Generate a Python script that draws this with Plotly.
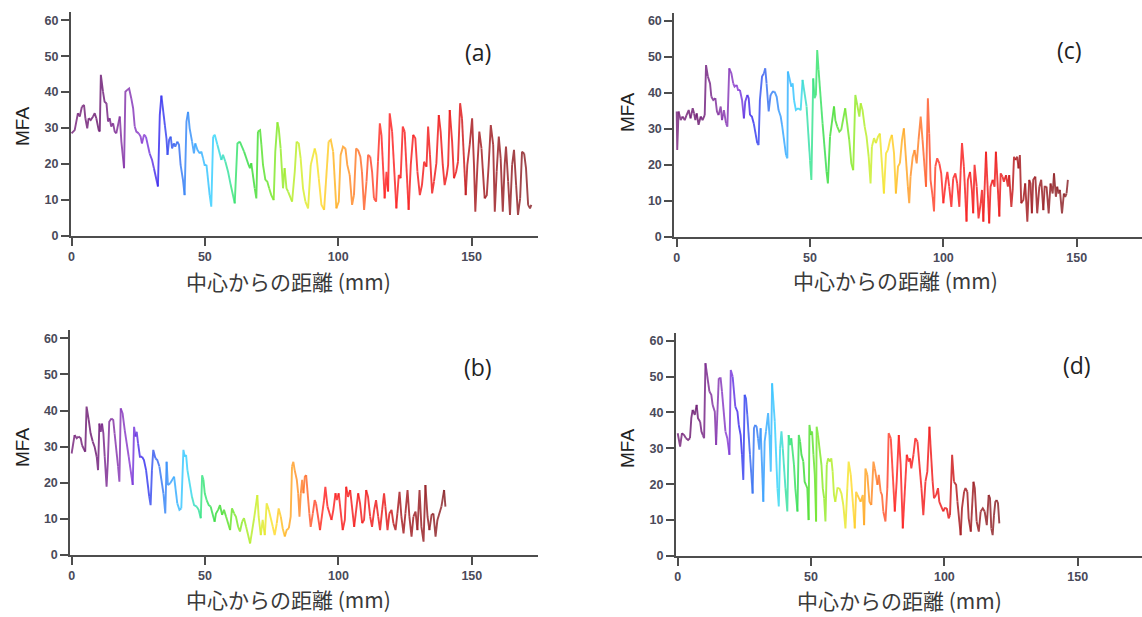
import plotly.graph_objects as go
from plotly.colors import sample_colorscale

# ---------------- data (distance from centre in mm, MFA) ----------------
a_x = [0.0, 1.2, 2.4, 3.1, 3.9, 4.7, 5.2, 5.9, 6.4, 7.2,
       8.1, 8.7, 9.3, 10.2, 10.6, 11.0, 11.8, 12.4, 13.1, 13.7,
       14.3, 14.9, 15.6, 16.2, 16.8, 17.4, 18.1, 18.7, 19.7, 20.2,
       20.9, 21.6, 22.4, 23.1, 23.7, 24.3, 25.2, 25.9, 26.4, 27.2,
       27.9, 28.7, 29.3, 30.2, 30.9, 31.8, 32.4, 33.1, 33.7, 34.3,
       35.0, 35.6, 36.0, 36.6, 37.2, 37.7, 38.4, 38.9, 39.7, 40.3,
       40.9, 41.8, 42.4, 43.1, 43.7, 44.3, 45.2, 45.9, 46.4, 47.2,
       48.1, 48.7, 49.3, 49.9, 50.6, 51.2, 51.8, 52.4, 53.1, 53.7,
       54.7, 55.6, 56.2, 56.8, 57.7, 58.7, 59.7, 60.6, 61.2, 62.2,
       63.1, 63.7, 64.7, 65.6, 66.4, 66.9, 67.4, 68.1, 68.7, 69.3,
       69.9, 70.7, 71.2, 71.8, 72.7, 73.4, 74.1, 74.9, 75.8, 76.4,
       77.2, 77.7, 78.4, 79.3, 79.9, 80.6, 81.2, 81.8, 82.7, 83.7,
       84.4, 85.2, 85.9, 86.8, 87.7, 88.7, 89.7, 90.6, 91.2, 91.8,
       92.7, 93.7, 94.7, 95.6, 96.4, 97.2, 98.1, 98.7, 99.3, 100.2,
       100.9, 101.8, 102.7, 103.4, 104.3, 105.2, 105.9, 106.7, 107.4, 108.3,
       108.9, 109.7, 110.6, 111.2, 112.0, 112.7, 113.4, 114.2, 114.9, 115.6,
       116.2, 116.8, 117.4, 118.1, 118.7, 119.3, 120.2, 120.9, 121.8, 122.7,
       123.4, 124.2, 124.9, 125.7, 126.4, 127.2, 128.1, 128.9, 129.7, 130.6,
       131.4, 132.2, 133.1, 133.7, 134.4, 135.2, 135.9, 136.8, 137.7, 138.4,
       139.2, 139.9, 140.7, 141.2, 141.8, 142.7, 143.4, 144.2, 144.9, 145.7,
       146.4, 147.2, 147.8, 148.4, 149.3, 150.2, 150.9, 151.4, 152.2, 152.9,
       153.7, 154.3, 154.9, 155.7, 156.4, 157.2, 158.1, 158.7, 159.4, 160.2,
       160.9, 161.7, 162.4, 162.9, 163.7, 164.4, 165.2, 165.9, 166.7, 167.4,
       168.2, 168.9, 169.7, 170.4, 171.2, 171.9, 172.4]
a_y = [28.5, 29.4, 34.1, 33.2, 35.9, 36.4, 32.7, 29.9, 32.7, 32.2,
       33.2, 34.1, 32.7, 29.4, 29.0, 44.8, 40.1, 37.3, 36.9, 31.8,
       32.7, 30.4, 31.3, 29.0, 28.5, 30.4, 33.2, 26.2, 18.8, 40.1,
       40.6, 41.0, 38.3, 35.5, 30.4, 29.0, 28.5, 27.6, 25.7, 28.1,
       27.6, 24.8, 22.9, 21.1, 18.8, 15.5, 13.7, 33.6, 39.0, 35.5,
       30.8, 27.1, 22.5, 26.7, 27.6, 24.3, 25.7, 24.8, 26.2, 25.3,
       19.7, 15.5, 11.3, 31.8, 34.5, 29.9, 26.2, 22.9, 25.7, 23.9,
       22.9, 23.4, 21.6, 19.7, 19.7, 15.5, 11.3, 8.1, 27.6, 28.1,
       25.3, 22.9, 21.1, 22.5, 20.6, 17.8, 14.1, 11.3, 9.0, 25.7,
       26.2, 25.3, 23.4, 21.1, 19.7, 18.8, 20.2, 16.0, 13.2, 10.4,
       29.0, 29.4, 25.3, 19.7, 15.5, 15.1, 13.2, 11.3, 9.9, 23.4,
       31.6, 29.9, 24.3, 13.2, 18.8, 13.2, 12.3, 11.3, 9.5, 17.8,
       26.2, 25.7, 21.6, 13.2, 9.5, 7.6, 19.7, 22.5, 24.3, 22.5,
       16.0, 8.6, 7.2, 16.9, 26.2, 26.7, 23.4, 16.9, 7.6, 9.5,
       22.5, 24.8, 24.3, 19.7, 16.9, 8.6, 11.3, 24.3, 23.9, 22.0,
       17.8, 7.2, 15.1, 22.5, 22.0, 17.8, 10.4, 9.5, 20.6, 31.3,
       28.1, 19.7, 10.4, 17.8, 12.3, 34.1, 29.0, 17.8, 7.6, 16.9,
       16.0, 30.4, 29.0, 17.8, 7.2, 19.7, 28.1, 27.1, 17.8, 11.3,
       14.1, 20.6, 19.2, 30.4, 22.5, 11.8, 15.1, 20.2, 33.6, 29.0,
       19.7, 14.1, 16.9, 19.7, 35.0, 26.2, 16.0, 17.8, 20.6, 36.9,
       32.7, 19.7, 11.3, 19.7, 25.3, 32.7, 19.7, 6.7, 19.7, 29.0,
       24.3, 17.8, 10.4, 11.3, 19.7, 30.8, 25.3, 6.7, 17.8, 27.6,
       21.6, 6.7, 19.7, 24.8, 15.1, 5.8, 19.7, 23.9, 14.1, 5.8,
       10.4, 23.4, 22.9, 18.8, 8.6, 7.6, 8.6]

b_x = [0.0, 0.5, 1.1, 1.9, 2.6, 3.4, 3.9, 4.6, 5.1, 5.6,
       6.4, 7.1, 7.9, 8.6, 9.4, 9.9, 10.4, 10.9, 11.4, 11.9,
       12.4, 13.1, 13.6, 14.1, 14.9, 15.6, 16.1, 16.9, 17.4, 17.9,
       18.4, 19.1, 19.9, 20.6, 21.4, 22.1, 22.9, 23.4, 23.9, 24.4,
       24.9, 25.6, 26.4, 27.1, 27.9, 28.6, 29.1, 29.6, 30.1, 30.6,
       31.4, 32.1, 32.9, 33.6, 34.4, 35.1, 35.6, 36.1, 36.9, 37.6,
       38.4, 38.9, 39.6, 40.4, 41.1, 41.9, 42.4, 42.9, 43.4, 44.4,
       45.1, 45.9, 46.9, 47.6, 48.4, 48.9, 49.4, 49.9, 50.6, 51.4,
       52.1, 52.9, 53.6, 54.1, 54.9, 55.6, 56.4, 57.1, 57.9, 58.6,
       59.4, 60.1, 60.9, 61.6, 62.4, 63.1, 63.9, 64.6, 65.4, 66.1,
       66.9, 67.6, 68.4, 69.1, 69.6, 70.1, 70.9, 71.6, 72.4, 73.1,
       73.9, 74.6, 75.4, 76.1, 76.9, 77.6, 78.4, 79.1, 79.9, 80.6,
       81.4, 82.1, 82.6, 83.1, 83.6, 84.4, 84.9, 85.4, 85.9, 86.4,
       86.9, 87.4, 87.9, 88.4, 89.1, 89.6, 90.4, 91.1, 91.6, 92.4,
       93.1, 93.9, 94.6, 95.1, 95.9, 96.6, 97.4, 98.1, 98.9, 99.4,
       100.1, 100.9, 101.6, 102.4, 102.9, 103.6, 104.4, 105.1, 105.9, 106.6,
       107.4, 108.1, 108.9, 109.6, 110.4, 111.1, 111.9, 112.6, 113.4, 114.1,
       114.9, 115.6, 116.4, 117.1, 117.6, 118.4, 119.1, 119.9, 120.6, 121.4,
       122.1, 122.9, 123.6, 124.4, 125.1, 125.9, 126.6, 127.4, 128.1, 128.9,
       129.6, 130.4, 131.1, 131.9, 132.6, 133.4, 134.1, 134.9, 135.6, 136.4,
       137.1, 137.9, 138.6, 139.1, 139.6, 140.1]
b_y = [28.1, 30.0, 33.2, 32.3, 32.8, 32.3, 30.4, 29.5, 28.6, 41.1,
       37.4, 33.7, 31.4, 30.0, 27.2, 23.5, 36.4, 34.1, 36.4, 33.7,
       27.2, 18.9, 26.3, 36.9, 37.8, 37.4, 33.7, 28.1, 24.5, 20.3,
       40.6, 39.2, 34.6, 31.4, 27.2, 23.5, 19.4, 35.5, 32.8, 34.1,
       30.9, 27.2, 27.2, 26.3, 23.5, 19.8, 16.1, 13.8, 23.5, 29.1,
       26.8, 26.3, 24.5, 21.2, 17.1, 11.5, 25.8, 19.4, 19.8, 20.8,
       21.7, 18.0, 14.3, 12.5, 12.9, 29.1, 27.2, 27.7, 23.5, 18.9,
       16.1, 13.8, 13.4, 12.5, 10.2, 22.1, 20.8, 17.1, 15.2, 13.8,
       13.4, 11.5, 9.2, 11.5, 12.5, 13.8, 11.1, 12.5, 10.6, 8.8,
       6.9, 12.9, 11.5, 10.6, 7.8, 6.5, 9.2, 10.2, 7.8, 5.5,
       3.2, 6.9, 10.2, 14.3, 16.6, 10.6, 5.5, 9.7, 5.5, 14.3,
       12.5, 10.6, 7.8, 5.5, 8.8, 12.9, 10.6, 7.4, 5.1, 6.9,
       7.4, 10.6, 24.5, 25.8, 23.5, 20.8, 17.1, 10.6, 17.1, 20.8,
       17.1, 21.7, 22.1, 17.1, 11.5, 7.8, 11.5, 15.2, 14.3, 10.6,
       6.9, 11.5, 15.2, 18.9, 13.4, 11.5, 9.7, 12.5, 17.1, 15.2,
       17.1, 10.6, 6.9, 9.7, 18.9, 16.1, 18.0, 13.4, 7.8, 11.5,
       17.1, 14.3, 8.8, 9.7, 18.0, 16.1, 10.6, 7.8, 12.5, 15.2,
       10.6, 6.9, 12.5, 17.1, 13.4, 6.9, 11.5, 12.5, 8.8, 6.9,
       11.5, 17.5, 10.6, 6.0, 11.5, 18.0, 10.6, 5.1, 10.6, 12.0,
       6.9, 18.0, 7.8, 3.7, 19.4, 10.6, 6.9, 11.1, 11.5, 5.1,
       9.7, 11.5, 13.4, 15.2, 18.0, 13.4]

c_x = [0.0, 0.2, 0.7, 1.5, 2.2, 3.0, 3.7, 4.5, 5.2, 6.0,
       6.5, 7.0, 7.5, 8.2, 9.0, 9.7, 10.5, 11.0, 11.7, 12.5,
       13.0, 13.7, 14.5, 15.1, 15.7, 16.5, 17.0, 17.7, 18.5, 19.0,
       19.7, 20.5, 21.2, 21.7, 22.5, 23.0, 23.7, 24.5, 25.2, 25.7,
       26.5, 27.0, 27.5, 28.2, 28.9, 29.5, 30.2, 30.7, 31.2, 32.0,
       32.7, 33.2, 33.7, 34.5, 35.2, 36.0, 36.7, 37.5, 38.2, 39.0,
       39.5, 40.2, 41.0, 41.5, 41.7, 42.5, 43.0, 43.5, 44.0, 44.7,
       45.5, 46.5, 47.2, 48.0, 48.7, 49.5, 50.0, 50.5, 51.2, 51.7,
       52.2, 52.7, 53.2, 54.0, 54.7, 55.5, 56.2, 56.7, 57.5, 58.2,
       59.0, 59.5, 60.2, 61.0, 61.7, 62.5, 63.2, 64.0, 64.7, 65.5,
       66.2, 67.0, 67.7, 68.5, 69.0, 69.7, 70.5, 71.2, 72.0, 72.7,
       73.2, 74.0, 74.7, 75.5, 76.2, 77.0, 77.7, 78.5, 79.2, 80.0,
       80.7, 81.5, 82.2, 83.0, 83.7, 84.5, 85.2, 86.0, 86.7, 87.2,
       87.7, 88.5, 89.2, 90.0, 90.7, 91.5, 92.2, 93.0, 93.5, 94.2,
       94.7, 95.2, 96.0, 96.5, 97.0, 97.7, 98.5, 99.2, 100.0, 100.5,
       101.0, 101.5, 102.2, 103.0, 103.7, 104.5, 105.2, 106.0, 106.5, 107.0,
       107.7, 108.2, 108.7, 109.2, 110.0, 110.7, 111.2, 111.7, 112.5, 113.2,
       114.0, 114.5, 115.0, 115.5, 116.0, 116.5, 117.2, 117.7, 118.5, 119.2,
       119.7, 120.2, 121.0, 121.5, 122.2, 122.7, 123.5, 124.2, 124.7, 125.5,
       126.0, 126.5, 127.0, 127.7, 128.2, 128.7, 129.2, 130.0, 130.7, 131.5,
       132.2, 132.7, 133.2, 133.7, 134.5, 135.2, 136.0, 136.7, 137.5, 138.0,
       138.7, 139.5, 140.2, 141.0, 141.5, 142.2, 142.7, 143.2, 143.7, 144.5,
       145.2, 145.7, 146.2, 146.7]
c_y = [34.8, 24.1, 34.8, 32.4, 33.4, 32.4, 33.8, 35.2, 32.9, 35.7,
       34.3, 32.4, 34.3, 31.1, 33.4, 32.4, 33.8, 47.7, 44.5, 42.6,
       38.9, 38.0, 38.5, 34.8, 33.8, 36.2, 32.4, 35.2, 31.5, 30.6,
       46.8, 45.4, 42.6, 41.7, 42.2, 40.8, 40.8, 38.0, 32.9, 37.5,
       39.4, 38.5, 33.8, 33.4, 31.5, 28.7, 26.0, 25.5, 38.0, 44.5,
       45.4, 46.8, 42.6, 34.8, 39.4, 40.3, 40.3, 38.9, 35.2, 33.4,
       31.1, 26.9, 22.7, 21.8, 45.9, 42.6, 41.7, 42.6, 38.0, 35.2,
       35.7, 35.2, 43.6, 39.9, 36.2, 26.9, 21.3, 15.8, 44.0, 38.5,
       39.4, 51.9, 46.4, 38.0, 31.5, 23.2, 18.0, 14.8, 27.8, 32.4,
       36.2, 32.4, 30.6, 29.2, 29.7, 32.4, 35.7, 31.5, 26.9, 20.4,
       18.5, 39.4, 36.6, 33.4, 37.1, 35.2, 30.6, 27.8, 22.2, 14.8,
       25.0, 27.4, 26.0, 27.8, 28.7, 18.5, 12.0, 23.2, 24.1, 26.9,
       28.3, 23.2, 12.0, 19.5, 20.4, 26.9, 30.1, 19.5, 13.9, 9.3,
       16.7, 22.2, 24.1, 20.4, 26.9, 33.4, 26.9, 18.5, 13.9, 38.5,
       28.7, 15.8, 11.1, 7.0, 19.5, 21.8, 20.4, 17.6, 9.3, 12.0,
       15.8, 18.0, 13.9, 8.3, 16.2, 17.6, 14.8, 8.3, 18.5, 26.0,
       19.5, 10.2, 4.2, 15.8, 18.0, 13.0, 6.5, 20.0, 13.9, 5.1,
       9.3, 13.0, 4.2, 14.8, 23.6, 13.0, 3.7, 13.9, 15.8, 13.9,
       23.6, 15.8, 5.6, 17.6, 16.7, 15.3, 17.1, 13.9, 17.1, 8.3,
       13.0, 22.2, 21.3, 22.2, 19.0, 22.7, 9.3, 10.2, 14.8, 4.2,
       15.8, 14.8, 6.5, 15.8, 16.7, 6.5, 13.9, 15.8, 7.4, 13.9,
       13.9, 6.5, 14.8, 12.0, 17.6, 11.1, 13.9, 12.0, 13.0, 6.5,
       12.0, 11.1, 12.0, 15.8]

d_x = [0.0, 0.9, 1.6, 2.4, 3.1, 3.9, 4.6, 5.1, 5.6, 6.4,
       7.1, 7.6, 8.4, 8.9, 9.4, 9.9, 10.4, 11.1, 11.9, 12.6,
       13.1, 13.9, 14.4, 14.9, 15.4, 16.1, 16.6, 17.1, 17.9, 18.6,
       19.4, 19.9, 20.6, 21.1, 21.6, 22.4, 22.9, 23.6, 24.1, 24.6,
       25.1, 25.6, 26.1, 26.6, 27.1, 27.6, 28.1, 28.6, 29.1, 29.6,
       30.1, 30.6, 31.1, 31.6, 32.1, 32.6, 33.1, 33.9, 34.4, 34.9,
       35.4, 35.9, 36.4, 36.9, 37.4, 37.9, 38.4, 38.9, 39.4, 39.9,
       40.4, 41.1, 41.6, 42.1, 42.6, 43.1, 43.6, 44.1, 44.9, 45.4,
       45.9, 46.4, 47.1, 47.6, 48.1, 48.6, 49.1, 49.4, 49.9, 50.4,
       50.9, 51.4, 51.9, 52.1, 52.6, 53.1, 53.9, 54.4, 54.9, 55.4,
       55.9, 56.4, 57.1, 57.6, 58.1, 58.6, 59.1, 59.9, 60.6, 61.4,
       62.1, 62.9, 63.6, 64.1, 64.9, 65.6, 66.4, 66.9, 67.4, 67.9,
       68.6, 69.4, 69.9, 70.4, 71.1, 71.9, 72.6, 73.4, 73.9, 74.4,
       74.9, 75.4, 76.1, 76.6, 77.1, 77.9, 78.6, 79.1, 79.9, 80.6,
       81.4, 82.1, 82.9, 83.6, 84.4, 85.1, 85.9, 86.6, 87.1, 87.6,
       88.4, 89.1, 89.9, 90.6, 91.4, 92.1, 92.9, 93.6, 94.4, 94.9,
       95.6, 96.1, 96.9, 97.6, 98.1, 98.9, 99.6, 100.1, 100.9, 101.6,
       102.1, 102.9, 103.6, 104.4, 104.9, 105.6, 106.1, 106.6, 107.4, 107.9,
       108.6, 109.1, 109.9, 110.4, 110.9, 111.4, 112.1, 112.9, 113.6, 114.4,
       115.1, 115.9, 116.6, 117.1, 117.6, 118.1, 118.6, 119.1, 119.6, 120.1,
       120.6]
d_y = [34.2, 30.5, 34.2, 33.7, 32.8, 32.3, 32.8, 38.4, 40.7, 39.3,
       42.1, 38.4, 37.4, 34.7, 33.7, 32.8, 53.7, 49.5, 45.8, 44.9,
       42.1, 40.2, 30.9, 43.0, 49.5, 49.5, 45.8, 41.2, 34.7, 32.8,
       28.2, 51.8, 50.0, 45.8, 41.6, 40.2, 36.5, 33.7, 28.2, 21.2,
       44.9, 43.9, 39.3, 34.7, 28.2, 22.6, 17.4, 35.6, 36.5, 36.0,
       32.8, 29.6, 35.6, 25.4, 15.1, 31.9, 34.7, 39.8, 33.7, 23.5,
       48.1, 42.1, 37.4, 28.2, 18.9, 13.8, 30.0, 34.7, 30.0, 25.4,
       18.9, 12.4, 33.7, 30.9, 32.8, 28.2, 25.4, 18.9, 12.4, 33.7,
       31.9, 28.2, 26.3, 20.7, 19.8, 18.9, 10.0, 36.5, 33.7, 34.7,
       28.2, 22.6, 9.6, 36.0, 33.7, 30.0, 25.4, 18.9, 16.1, 9.6,
       25.4, 27.2, 26.3, 27.2, 23.5, 17.0, 15.1, 18.9, 18.9, 17.4,
       14.2, 7.7, 18.9, 26.3, 22.6, 15.1, 7.7, 17.9, 17.0, 16.1,
       15.1, 17.0, 8.6, 24.4, 22.6, 15.1, 14.2, 26.3, 24.4, 21.6,
       19.8, 22.6, 17.9, 17.0, 12.4, 9.6, 18.9, 34.2, 32.8, 23.5,
       12.4, 20.7, 33.7, 25.4, 7.7, 18.9, 28.2, 26.3, 27.2, 24.4,
       28.2, 32.8, 31.9, 25.4, 18.9, 11.4, 20.7, 23.5, 36.0, 28.2,
       20.7, 16.1, 17.0, 18.9, 15.1, 13.3, 12.4, 13.3, 13.3, 10.5,
       11.4, 28.2, 20.7, 19.8, 15.1, 9.6, 5.8, 13.3, 17.9, 18.9,
       17.9, 10.5, 6.8, 15.1, 20.7, 18.9, 9.6, 6.8, 12.4, 13.3,
       12.4, 8.6, 17.0, 16.1, 7.7, 5.8, 11.4, 15.1, 15.6, 14.7,
       9.1]

panel_labels = ["(a)", "(b)", "(c)", "(d)"]
x_ticks = [0, 50, 100, 150]
y_ticks = [0, 10, 20, 30, 40, 50, 60]
x_title = "中心からの距離 (mm)"
y_title = "MFA"

# rainbow colour scale along the profile (fraction of profile length)
rainbow = [
    [0.00, "rgb(125,45,130)"], [0.06, "rgb(110,30,115)"], [0.11, "rgb(135,55,165)"],
    [0.16, "rgb(140,65,215)"], [0.19, "rgb(60,45,240)"], [0.23, "rgb(60,110,240)"],
    [0.27, "rgb(60,165,255)"], [0.31, "rgb(60,215,255)"], [0.35, "rgb(60,230,130)"],
    [0.39, "rgb(60,220,60)"], [0.45, "rgb(140,235,45)"], [0.50, "rgb(210,240,50)"],
    [0.54, "rgb(255,225,50)"], [0.57, "rgb(255,185,40)"], [0.61, "rgb(255,140,45)"],
    [0.65, "rgb(255,80,50)"], [0.68, "rgb(255,40,40)"], [0.84, "rgb(235,30,30)"],
    [0.87, "rgb(170,30,35)"], [1.00, "rgb(140,40,45)"],
]

W, H = 1142, 617
panels = [
    dict(x=a_x, y=a_y, xd=(71, 538), xr=(-0.19, 174.9), yd=(235.7, 12), yt=62.3,
         lab=(478, 52), mfa=(22, 127), xt=(288, 281), name=panel_labels[0]),
    dict(x=b_x, y=b_y, xd=(70.3, 538), xr=(-0.5, 174.8), yd=(555, 330), yt=62.3,
         lab=(478, 367), mfa=(22, 448), xt=(288, 599), name=panel_labels[1]),
    dict(x=c_x, y=c_y, xd=(674.3, 1142), xr=(-0.9, 174.5), yd=(236.7, 13.3), yt=62.1,
         lab=(1069, 50), mfa=(628, 113), xt=(895, 280), name=panel_labels[2]),
    dict(x=d_x, y=d_y, xd=(676, 1142), xr=(-0.64, 174.1), yd=(556, 332.7), yt=62.2,
         lab=(1077, 365), mfa=(627, 449), xt=(899, 600), name=panel_labels[3]),
]

fig = go.Figure()
annotations = []
axis_col = "#4d4d4d"
tick_font = dict(family="Liberation Sans", size=12.5, color="#4a4a5a", weight="bold")

for k, p in enumerate(panels, start=1):
    xs, ys = p["x"], p["y"]
    assert len(xs) == len(ys), (p["name"], len(xs), len(ys))
    xmax = xs[-1]
    xa = "x" if k == 1 else f"x{k}"
    ya = "y" if k == 1 else f"y{k}"
    step = 2
    for i in range(0, len(xs) - 1, step):
        j = min(i + step, len(xs) - 1)
        frac = ((xs[i] + xs[j]) / 2) / xmax
        col = sample_colorscale(rainbow, [min(max(frac, 0), 1)])[0]
        fig.add_trace(go.Scatter(
            x=xs[i:j + 1], y=ys[i:j + 1], mode="lines",
            line=dict(color=col, width=1.9), opacity=0.85,
            xaxis=xa, yaxis=ya, showlegend=False, hoverinfo="skip"))

    xkey = "xaxis" if k == 1 else f"xaxis{k}"
    ykey = "yaxis" if k == 1 else f"yaxis{k}"
    fig.update_layout(**{
        xkey: dict(domain=[p["xd"][0] / W, p["xd"][1] / W], range=list(p["xr"]),
                   anchor=ya, showline=True, linecolor=axis_col, linewidth=2,
                   ticks="outside", ticklen=8, tickwidth=1.5, tickcolor=axis_col,
                   tickvals=x_ticks, tickfont=tick_font, showgrid=False, zeroline=False,
                   automargin=False),
        ykey: dict(domain=[1 - p["yd"][0] / H, 1 - p["yd"][1] / H], range=[0, p["yt"]],
                   anchor=xa, showline=True, linecolor=axis_col, linewidth=2,
                   ticks="outside", ticklen=8, tickwidth=1.5, tickcolor=axis_col,
                   tickvals=y_ticks, tickfont=tick_font, showgrid=False, zeroline=False,
                   automargin=False),
    })
    annotations.append(dict(text=p["name"], x=p["lab"][0] / W, y=1 - p["lab"][1] / H,
                            xref="paper", yref="paper", showarrow=False,
                            xanchor="center", yanchor="middle",
                            font=dict(family="Open Sans", size=23, color="#222222")))
    annotations.append(dict(text=y_title, x=p["mfa"][0] / W, y=1 - p["mfa"][1] / H,
                            xref="paper", yref="paper", showarrow=False, textangle=-90,
                            xanchor="center", yanchor="middle",
                            font=dict(family="Liberation Sans", size=19, color="#222222")))
    annotations.append(dict(text=x_title, x=p["xt"][0] / W, y=1 - p["xt"][1] / H,
                            xref="paper", yref="paper", showarrow=False,
                            xanchor="center", yanchor="middle",
                            font=dict(family="Noto Sans CJK JP", size=21, color="#3a3a3a")))

fig.update_layout(width=W, height=H, autosize=False,
                  margin=dict(l=0, r=0, t=0, b=0, pad=0, autoexpand=False),
                  paper_bgcolor="white", plot_bgcolor="white",
                  annotations=annotations, showlegend=False)

fig.write_html(
    "out.html",
    config={"displayModeBar": False, "responsive": False},
    post_script=(
        "document.documentElement.style.margin='0';"
        "document.documentElement.style.padding='0';"
        "document.documentElement.style.overflow='hidden';"
        "document.body.style.margin='0';"
        "document.body.style.padding='0';"
        "document.body.style.overflow='hidden';"
    ),
)
